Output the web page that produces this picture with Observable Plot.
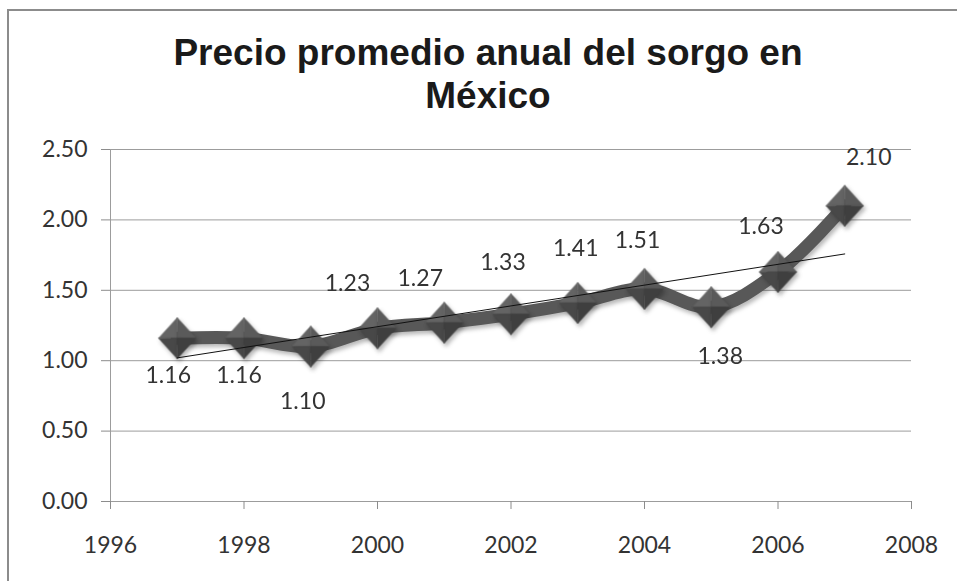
<!DOCTYPE html>
<html>
<head>
<meta charset="utf-8">
<script src="https://cdn.jsdelivr.net/npm/d3@7"></script>
<script src="https://cdn.jsdelivr.net/npm/@observablehq/plot@0.6"></script>
<style>
  html, body { margin: 0; padding: 0; background: #fff; }
  #wrap { position: relative; width: 957px; height: 581px; overflow: hidden; background: #fff; }
  #frame { position: absolute; left: 7px; top: 9px; width: 980px; height: 600px;
           border-left: 2px solid #8c8c8c; border-top: 2px solid #8c8c8c; box-sizing: border-box; }
  #title { position: absolute; left: 19px; width: 938px; top: 31px; text-align: center;
           font-family: "Liberation Sans", Arial, sans-serif; font-weight: bold; font-size: 37px;
           line-height: 43px; color: #1a1a1a; }
  #chart { position: absolute; left: 0; top: 135px; }
</style>
</head>
<body>
<div id="wrap">
  <div id="frame"></div>
  <div id="title">Precio promedio anual del sorgo en<br>México</div>
  <div id="chart"></div>
</div>
<script>
// ---- data ----
const years  = [1997, 1998, 1999, 2000, 2001, 2002, 2003, 2004, 2005, 2006, 2007];
const prices = [1.16, 1.16, 1.10, 1.23, 1.27, 1.33, 1.41, 1.51, 1.38, 1.63, 2.10];
const labels = ["1.16", "1.16", "1.10", "1.23", "1.27", "1.33", "1.41", "1.51", "1.38", "1.63", "2.10"];
const xTicks = [1996, 1998, 2000, 2002, 2004, 2006, 2008];
const yTicks = [0, 0.5, 1.0, 1.5, 2.0, 2.5];

// ---- rendering ----
const rows = years.map((year, i) => ({year, price: prices[i], label: labels[i]}));

// manual data-label placement (as in the original chart), pixels
const labelNudge = [
  [-9, 37], [-5, 37], [-8, 55], [-30, -45], [-24, -44], [-8, -52],
  [-2, -54], [-7, -48], [9, 49], [-17, -45], [24, -48]
];

const FONT = "Lato, 'Open Sans', sans-serif";

function facet(points) {
  return {
    draw(context, size) {
      const r = Math.sqrt(size / Math.PI);
      const w = r * 0.91, h = r;
      const p = points.map(([a, b]) => [a * w, b * h]);
      context.moveTo(p[0][0], p[0][1]);
      for (let k = 1; k < p.length; k++) context.lineTo(p[k][0], p[k][1]);
      context.closePath();
    }
  };
}
const facets = [
  {sym: facet([[0, 0], [-1, 0], [0, -1]]), fill: "#646464"},
  {sym: facet([[0, 0], [0, -1], [1, 0]]), fill: "#5a5a5a"},
  {sym: facet([[0, 0], [-1, 0], [0, 1]]), fill: "#484848"},
  {sym: facet([[0, 0], [1, 0], [0, 1]]), fill: "#3f3f3f"}
];

const plot = Plot.plot({
  width: 957,
  height: 446,
  marginTop: 14,
  marginLeft: 110,
  marginRight: 46,
  marginBottom: 80,
  style: {background: "transparent", overflow: "visible"},
  x: {domain: [1996, 2008], axis: null},
  y: {domain: [0, 2.5], axis: null},
  marks: [
    Plot.ruleY(yTicks, {stroke: "#9c9c9c", strokeWidth: 1}),
    Plot.ruleX([1996], {y1: 0, y2: 2.5, stroke: "#9c9c9c", strokeWidth: 1}),
    Plot.axisY(yTicks, {
      label: null, tickSize: 9, tickPadding: 14, tickFormat: d3.format(".2f"),
      stroke: "#8c8c8c", fill: "#333", fontSize: 23, fontFamily: FONT
    }),
    Plot.axisX(xTicks, {
      label: null, tickSize: 8, tickPadding: 27, tickFormat: d3.format("d"),
      stroke: "#8c8c8c", fill: "#333", fontSize: 23, fontFamily: FONT
    }),
    Plot.line(rows, {
      x: "year", y: "price", curve: "catmull-rom",
      stroke: "#585858", strokeWidth: 13, strokeLinejoin: "round", strokeLinecap: "round",
      className: "shadowed"
    }),
    ...facets.map(f => Plot.dot(rows, {
      x: "year", y: "price", r: 20.5, symbol: f.sym,
      fill: f.fill, stroke: f.fill, strokeWidth: 0.6, className: "shadowed"
    })),
    Plot.linearRegressionY(rows, {x: "year", y: "price", stroke: "#111", strokeWidth: 1, ci: 0}),
    ...rows.map((d, i) => Plot.text([d], {
      x: "year", y: "price", text: "label",
      dx: labelNudge[i][0], dy: labelNudge[i][1],
      fill: "#333", fontSize: 23, fontFamily: FONT
    }))
  ]
});

document.getElementById("chart").appendChild(plot);
plot.querySelectorAll(".shadowed").forEach(g => {
  g.style.filter = "drop-shadow(2px 3px 2px rgba(0,0,0,0.28))";
});
</script>
</body>
</html>
